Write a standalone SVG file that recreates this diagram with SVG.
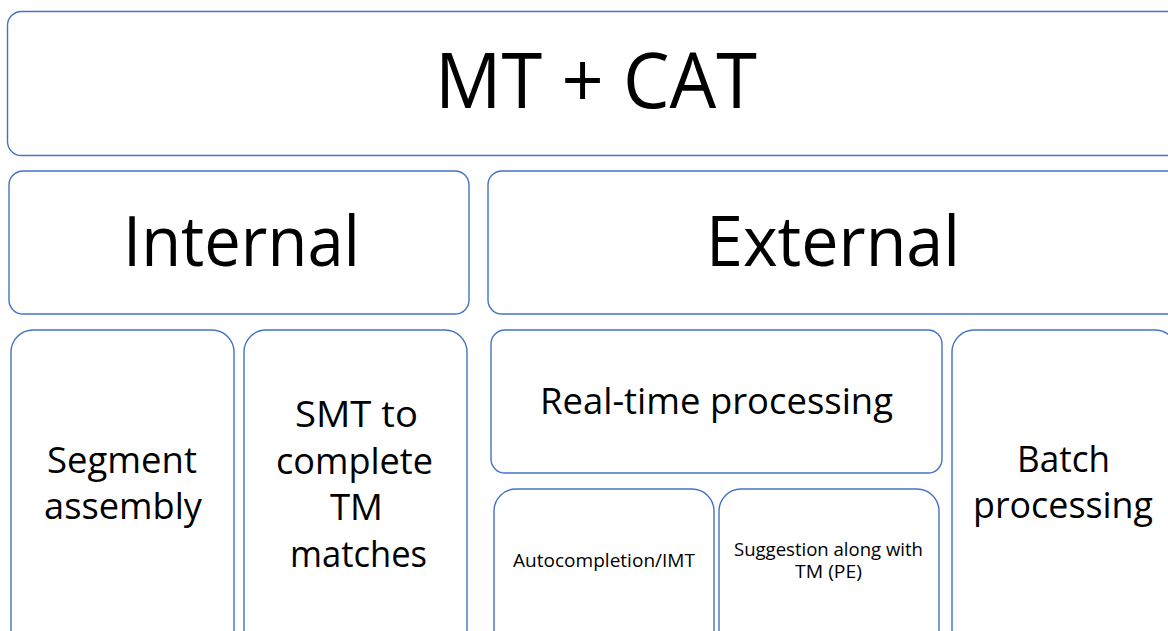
<svg xmlns="http://www.w3.org/2000/svg" width="1168" height="631" viewBox="0 0 1168 631">
  <style>
    .box { fill: #ffffff; stroke: #4472C4; stroke-width: 1.4; }
    .t { font-family: "Open Sans", "Liberation Sans", sans-serif; fill: #000000; text-anchor: middle; }
  </style>
  <rect x="0" y="0" width="1168" height="631" fill="#ffffff"/>
  <g id="connectors"></g>
  <g id="node-mtcat">
    <rect class="box" x="7.5" y="11.5" width="1175" height="144" rx="14" ry="14"/>
    <text class="t" x="596" y="108" font-size="77" textLength="322" lengthAdjust="spacingAndGlyphs">MT + CAT</text>
  </g>
  <g id="node-internal">
    <rect class="box" x="9" y="171" width="460" height="143" rx="14" ry="14"/>
    <text class="t" x="241.5" y="266" font-size="70" textLength="237" lengthAdjust="spacingAndGlyphs">Internal</text>
  </g>
  <g id="node-external">
    <rect class="box" x="488" y="171" width="695" height="143" rx="14" ry="14"/>
    <text class="t" x="833" y="266" font-size="70" textLength="254" lengthAdjust="spacingAndGlyphs">External</text>
  </g>
  <g id="node-segment">
    <rect class="box" x="11" y="330" width="223" height="330" rx="22" ry="22"/>
    <text class="t" x="122" y="473" font-size="36" textLength="150" lengthAdjust="spacingAndGlyphs">Segment</text>
    <text class="t" x="123" y="519" font-size="36" textLength="158" lengthAdjust="spacingAndGlyphs">assembly</text>
  </g>
  <g id="node-smt">
    <rect class="box" x="244" y="330" width="223" height="330" rx="22" ry="22"/>
    <text class="t" x="356.5" y="427" font-size="36" textLength="123" lengthAdjust="spacingAndGlyphs">SMT to</text>
    <text class="t" x="354.5" y="473.5" font-size="36" textLength="157" lengthAdjust="spacingAndGlyphs">complete</text>
    <text class="t" x="356.5" y="520" font-size="36" textLength="53" lengthAdjust="spacingAndGlyphs">TM</text>
    <text class="t" x="358.5" y="566.5" font-size="36" textLength="137" lengthAdjust="spacingAndGlyphs">matches</text>
  </g>
  <g id="node-realtime">
    <rect class="box" x="491" y="330" width="451" height="143" rx="14" ry="14"/>
    <text class="t" x="716.5" y="414" font-size="36" textLength="353" lengthAdjust="spacingAndGlyphs">Real-time processing</text>
  </g>
  <g id="node-autocompletion">
    <rect class="box" x="494" y="489" width="220" height="180" rx="22" ry="22"/>
    <text class="t" x="604" y="567" font-size="18" textLength="182" lengthAdjust="spacingAndGlyphs">Autocompletion/IMT</text>
  </g>
  <g id="node-suggestion">
    <rect class="box" x="719" y="489" width="220" height="180" rx="22" ry="22"/>
    <text class="t" x="828.5" y="556" font-size="18" textLength="189" lengthAdjust="spacingAndGlyphs">Suggestion along with</text>
    <text class="t" x="828.5" y="578" font-size="18" textLength="67" lengthAdjust="spacingAndGlyphs">TM (PE)</text>
  </g>
  <g id="node-batch">
    <rect class="box" x="952" y="330" width="225" height="330" rx="22" ry="22"/>
    <text class="t" x="1063.5" y="472" font-size="36" textLength="93" lengthAdjust="spacingAndGlyphs">Batch</text>
    <text class="t" x="1063" y="518" font-size="36" textLength="180" lengthAdjust="spacingAndGlyphs">processing</text>
  </g>
</svg>
